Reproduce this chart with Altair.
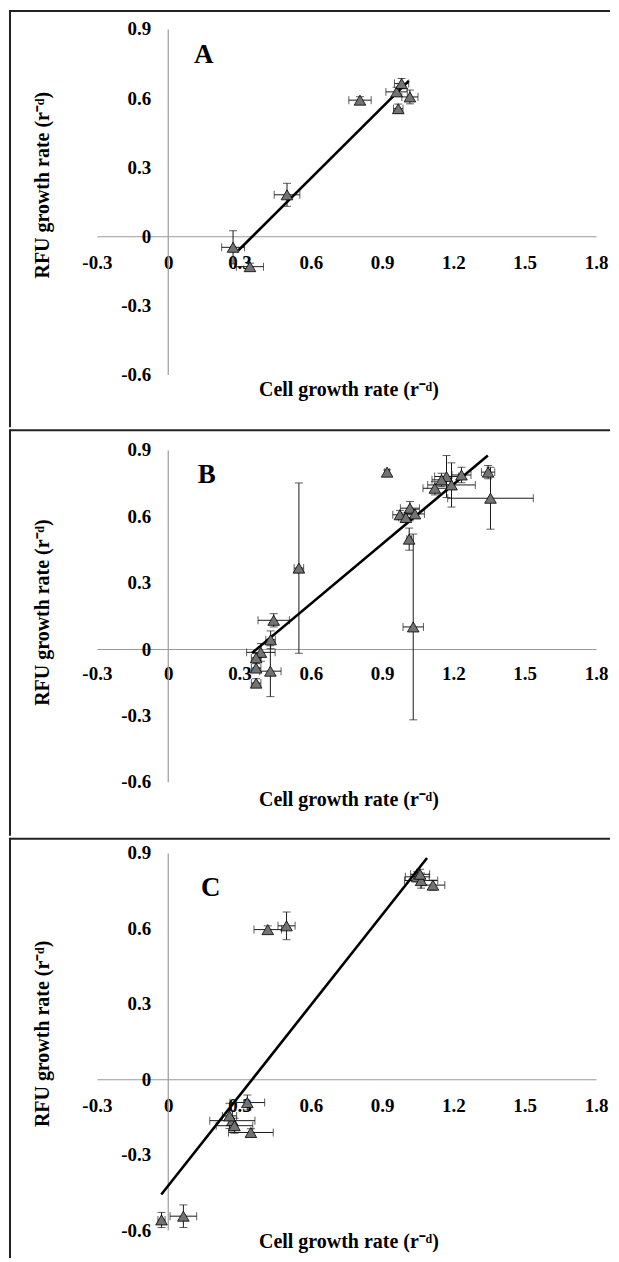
import altair as alt
import pandas as pd

FONT = "Liberation Serif, Times New Roman, serif"

# ---------------- data ----------------
# Panel A
a_x = [0.807, 0.961, 0.982, 1.017, 0.968, 0.500, 0.273, 0.344]
a_y = [0.591, 0.627, 0.663, 0.605, 0.554, 0.180, -0.048, -0.132]
a_xerr = [0.047, 0.045, 0.030, 0.034, 0.020, 0.054, 0.048, 0.057]
a_yerr = [0.015, 0.020, 0.022, 0.030, 0.020, 0.050, 0.072, 0.015]
a_line_x = [0.295, 1.012]
a_line_y = [-0.062, 0.675]

# Panel B
b_x = [0.921, 1.346, 1.356, 1.122, 1.171, 1.192, 1.234, 1.150, 0.975, 1.017, 1.038,
       1.000, 1.014, 1.031, 0.550, 0.444, 0.431, 0.390, 0.370, 0.370, 0.430, 0.370]
b_y = [0.800, 0.800, 0.682, 0.727, 0.780, 0.742, 0.787, 0.765, 0.607, 0.637, 0.611,
       0.595, 0.497, 0.100, 0.366, 0.130, 0.042, -0.015, -0.040, -0.086, -0.100, -0.154]
b_xerr = [0.010, 0.028, 0.180, 0.050, 0.050, 0.100, 0.040, 0.040, 0.030, 0.040, 0.040,
          0.030, 0.010, 0.043, 0.020, 0.066, 0.020, 0.060, 0.020, 0.020, 0.045, 0.020]
b_yerr = [0.010, 0.030, 0.140, 0.030, 0.095, 0.100, 0.035, 0.030, 0.020, 0.030, 0.020,
          0.020, 0.050, 0.420, 0.385, 0.030, 0.040, 0.040, 0.020, 0.020, 0.115, 0.020]
b_line_x = [0.353, 1.345]
b_line_y = [-0.018, 0.875]

# Panel C
c_x = [0.419, 0.498, 1.048, 1.064, 1.114, 1.060, 0.333, 0.270, 0.279, 0.258, 0.348, -0.028, 0.064]
c_y = [0.595, 0.610, 0.805, 0.790, 0.772, 0.815, -0.093, -0.165, -0.185, -0.146, -0.212, -0.560, -0.545]
c_xerr = [0.058, 0.036, 0.050, 0.070, 0.050, 0.040, 0.073, 0.095, 0.077, 0.030, 0.094, 0.015, 0.056]
c_yerr = [0.015, 0.055, 0.020, 0.030, 0.020, 0.020, 0.030, 0.040, 0.030, 0.050, 0.015, 0.030, 0.045]
c_line_x = [-0.029, 1.089]
c_line_y = [-0.459, 0.880]

x_ticks = [-0.3, 0, 0.3, 0.6, 0.9, 1.2, 1.5, 1.8]
y_ticks = [-0.6, -0.3, 0, 0.3, 0.6, 0.9]
x_title = "Cell growth rate (r\u207b\u1d48)"
y_title = "RFU growth rate (r\u207b\u1d48)"

LABEL_EXPR = ("datum.value == 0 ? '0' : (datum.value < 0 ? '-' + format(-datum.value, '.1f') "
              ": format(datum.value, '.1f'))")

W = 603


def panel(letter, xs, ys, xe, ye, lx, ly, height, yrange, xoff, ytitle_y, xtitle_y,
          letter_pos, xlab_pad):
    df = pd.DataFrame({"x": xs, "y": ys, "xe": xe, "ye": ye})
    df["xlo"] = df["x"] - df["xe"]
    df["xhi"] = df["x"] + df["xe"]
    df["ylo"] = df["y"] - df["ye"]
    df["yhi"] = df["y"] + df["ye"]
    line_df = pd.DataFrame({"x": lx, "y": ly})

    xscale = alt.Scale(domain=[-0.3, 1.8], range=[89, 589], nice=False, zero=False)
    yscale = alt.Scale(domain=[-0.6, 0.9], range=yrange, nice=False, zero=False)

    xaxis = alt.Axis(orient="bottom", offset=xoff, values=x_ticks, labelExpr=LABEL_EXPR,
                     ticks=False, tickSize=0, grid=False, domainColor="#9a9a9a", domainWidth=1.2,
                     labelFont=FONT, labelFontWeight="bold", labelFontSize=19, labelColor="black",
                     labelPadding=xlab_pad, labelBaseline="middle", labelFlush=False,
                     labelOverlap=False, labelBound=False,
                     title=x_title, titleFont=FONT, titleFontWeight="bold", titleFontSize=20,
                     titleColor="black", titleX=341, titleY=xtitle_y, titleBaseline="middle",
                     titleAlign="center", titleAngle=0)
    yaxis = alt.Axis(orient="left", offset=-160, values=y_ticks, labelExpr=LABEL_EXPR,
                     ticks=False, tickSize=0, grid=False, domainColor="#9a9a9a", domainWidth=1.2,
                     labelFont=FONT, labelFontWeight="bold", labelFontSize=19, labelColor="black",
                     labelPadding=17, labelFlush=False, labelOverlap=False, labelBound=False,
                     title=y_title, titleFont=FONT, titleFontWeight="bold", titleFontSize=20,
                     titleColor="black", titleX=-125, titleY=ytitle_y, titleAngle=270,
                     titleBaseline="middle", titleAlign="center")

    base = alt.Chart(df)
    hbars = base.mark_rule(color="#1a1a1a", strokeWidth=1).encode(
        x=alt.X("xlo:Q", scale=xscale, axis=xaxis), x2="xhi:Q",
        y=alt.Y("y:Q", scale=yscale, axis=yaxis))
    vbars = base.mark_rule(color="#1a1a1a", strokeWidth=1).encode(
        x=alt.X("x:Q", scale=xscale, axis=xaxis),
        y=alt.Y("ylo:Q", scale=yscale, axis=yaxis), y2="yhi:Q")
    cap_l = base.mark_tick(orient="vertical", size=8, thickness=1, color="#1a1a1a").encode(
        x=alt.X("xlo:Q", scale=xscale, axis=xaxis), y=alt.Y("y:Q", scale=yscale, axis=yaxis))
    cap_r = base.mark_tick(orient="vertical", size=8, thickness=1, color="#1a1a1a").encode(
        x=alt.X("xhi:Q", scale=xscale, axis=xaxis), y=alt.Y("y:Q", scale=yscale, axis=yaxis))
    cap_b = base.mark_tick(orient="horizontal", size=8, thickness=1, color="#1a1a1a").encode(
        x=alt.X("x:Q", scale=xscale, axis=xaxis), y=alt.Y("ylo:Q", scale=yscale, axis=yaxis))
    cap_t = base.mark_tick(orient="horizontal", size=8, thickness=1, color="#1a1a1a").encode(
        x=alt.X("x:Q", scale=xscale, axis=xaxis), y=alt.Y("yhi:Q", scale=yscale, axis=yaxis))
    pts = base.mark_point(shape="triangle-up", filled=True, fill="#737373", stroke="black",
                          strokeWidth=0.8, size=135, opacity=1).encode(
        x=alt.X("x:Q", scale=xscale, axis=xaxis), y=alt.Y("y:Q", scale=yscale, axis=yaxis))
    trend = alt.Chart(line_df).mark_line(color="black", strokeWidth=2.6).encode(
        x=alt.X("x:Q", scale=xscale, axis=xaxis), y=alt.Y("y:Q", scale=yscale, axis=yaxis))

    one = pd.DataFrame({"t": [letter]})
    letter_mark = alt.Chart(one).mark_text(font=FONT, fontWeight="bold", fontSize=27,
                                           align="center", baseline="middle", color="black").encode(
        text="t:N", x=alt.value(letter_pos[0]), y=alt.value(letter_pos[1]))
    top_border = alt.Chart(one).mark_rule(color="#222", strokeWidth=2).encode(
        x=alt.value(2), x2=alt.value(W), y=alt.value(1))
    left_border = alt.Chart(one).mark_rule(color="#222", strokeWidth=2).encode(
        x=alt.value(2), y=alt.value(0), y2=alt.value(height))

    return alt.layer(hbars, vbars, cap_l, cap_r, cap_b, cap_t, trend, pts, letter_mark,
                     top_border, left_border).properties(width=W, height=height)


pa = panel("A", a_x, a_y, a_xerr, a_yerr, a_line_x, a_line_y, 418, [365, 19], -191.4,
           175, 153.4, (196, 45), 26)
pb = panel("B", b_x, b_y, b_xerr, b_yerr, b_line_x, b_line_y, 407, [353, 20.7], -187,
           183, 150.7, (199, 46), 25)
pc = panel("C", c_x, c_y, c_xerr, c_yerr, c_line_x, c_line_y, 421, [393, 15.3], -179,
           196, 163, (203, 50), 26)

chart = alt.vconcat(pa, pb, pc, spacing=0).properties(padding=0).configure_view(stroke=None)

chart.save("out.html", embed_options={"renderer": "svg", "actions": False})
